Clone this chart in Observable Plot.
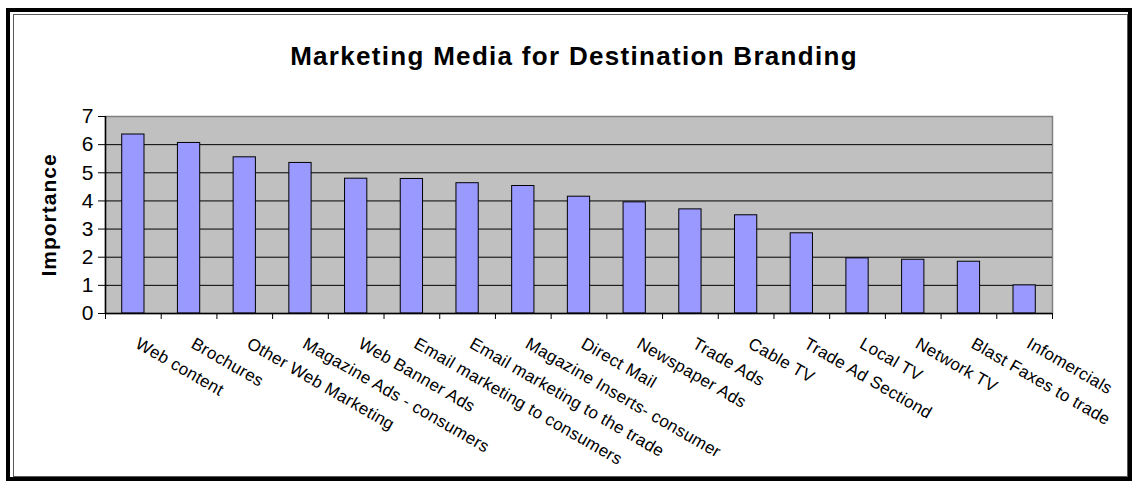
<!DOCTYPE html>
<html>
<head>
<meta charset="utf-8">
<script src="https://cdn.jsdelivr.net/npm/d3@7"></script>
<script src="https://cdn.jsdelivr.net/npm/@observablehq/plot@0.6"></script>
<style>
  html, body { margin: 0; padding: 0; background: #fff; }
  #wrap { position: relative; width: 1133px; height: 482px; overflow: hidden; background: #fff; }
  #outer { position: absolute; left: 6px; top: 8px; width: 1126px; height: 473px; border: 4px solid #000; box-sizing: border-box; }
  #inner { position: absolute; left: 13px; top: 14px; width: 1115px; height: 463px; border: 1.5px solid #5a5a5a; box-sizing: border-box; }
  #chart { position: absolute; left: 0; top: 0; }
</style>
</head>
<body>
<div id="wrap">
  <div id="outer"></div>
  <div id="inner"></div>
  <div id="chart"></div>
</div>
<script>
const titleText = "Marketing Media for Destination Branding";
const yTitle = "Importance";
const categories = [
  "Web content", "Brochures", "Other Web Marketing", "Magazine Ads - consumers",
  "Web Banner Ads", "Email marketing to consumers", "Email marketing to the trade",
  "Magazine Inserts- consumer", "Direct Mail", "Newspaper Ads", "Trade Ads",
  "Cable TV", "Trade Ad Sectiond", "Local TV", "Network TV",
  "Blast Faxes to trade", "Infomercials"
];
const values = [6.36, 6.06, 5.55, 5.35, 4.79, 4.78, 4.63, 4.53, 4.15, 3.95, 3.70, 3.49, 2.85, 1.96, 1.91, 1.84, 1.00];
const yTicks = [0, 1, 2, 3, 4, 5, 6, 7];
const gridValues = [1, 2, 3, 4, 5, 6];

const data = categories.map((c, i) => ({category: c, value: values[i], index: i}));
const boundaries = d3.range(categories.length + 1);

const W = 1133, H = 482;
const mL = 105, mR = 81, mT = 116, mB = 169;
const step = (W - mL - mR) / categories.length;
const inset = step * 0.3;

const chart = Plot.plot({
  width: W,
  height: H,
  marginLeft: mL,
  marginRight: mR,
  marginTop: mT,
  marginBottom: mB,
  style: {fontFamily: "'Liberation Sans', Arial, sans-serif", fontSize: "17px", color: "#000", background: "transparent", overflow: "visible"},
  x: {type: "linear", domain: [0, categories.length], axis: null},
  y: {domain: [0, 7], axis: null},
  marks: [
    Plot.frame({fill: "#c0c0c0", stroke: "#808080", strokeWidth: 1.5}),
    Plot.ruleY(gridValues, {stroke: "#000", strokeWidth: 1}),
    Plot.rectY(data, {x1: "index", x2: d => d.index + 1, y: "value", insetLeft: inset, insetRight: inset, fill: "#9999ff", stroke: "#000", strokeWidth: 1}),
    Plot.ruleX([0], {stroke: "#000", strokeWidth: 1.5}),
    Plot.ruleY([0], {stroke: "#000", strokeWidth: 1.5}),
    Plot.axisY({ticks: yTicks, tickSize: 7, tickPadding: 5, fontSize: 21, label: null, tickFormat: d => String(d)}),
    Plot.axisX({ticks: boundaries, tickSize: 6, tickFormat: () => "", label: null}),
    Plot.text(data, {x: d => d.index + 0.5, y: 0, text: "category", rotate: 30, textAnchor: "start", lineAnchor: "top", dx: 7, dy: 23, fontSize: 17, fill: "#000"}),
    Plot.text([yTitle], {frameAnchor: "left", text: d => d, rotate: -90, dx: -56, fontSize: 21, fontWeight: "bold", fill: "#000", textAnchor: "middle", lineAnchor: "middle"}),
    Plot.text([titleText], {frameAnchor: "top", text: d => d, dx: -5, dy: -52, lineAnchor: "bottom", textAnchor: "middle", fontSize: 26, fontWeight: "bold", fill: "#000"})
  ]
});

// letter spacing to match the wide text rendering of the original
d3.select(chart).selectAll("text").each(function() {
  const t = this.textContent;
  if (t === titleText) this.style.letterSpacing = "1.3px";
  else if (t === yTitle) this.style.letterSpacing = "1px";
  else if (categories.includes(t)) this.style.letterSpacing = "0.3px";
});

document.getElementById("chart").appendChild(chart);
</script>
</body>
</html>
